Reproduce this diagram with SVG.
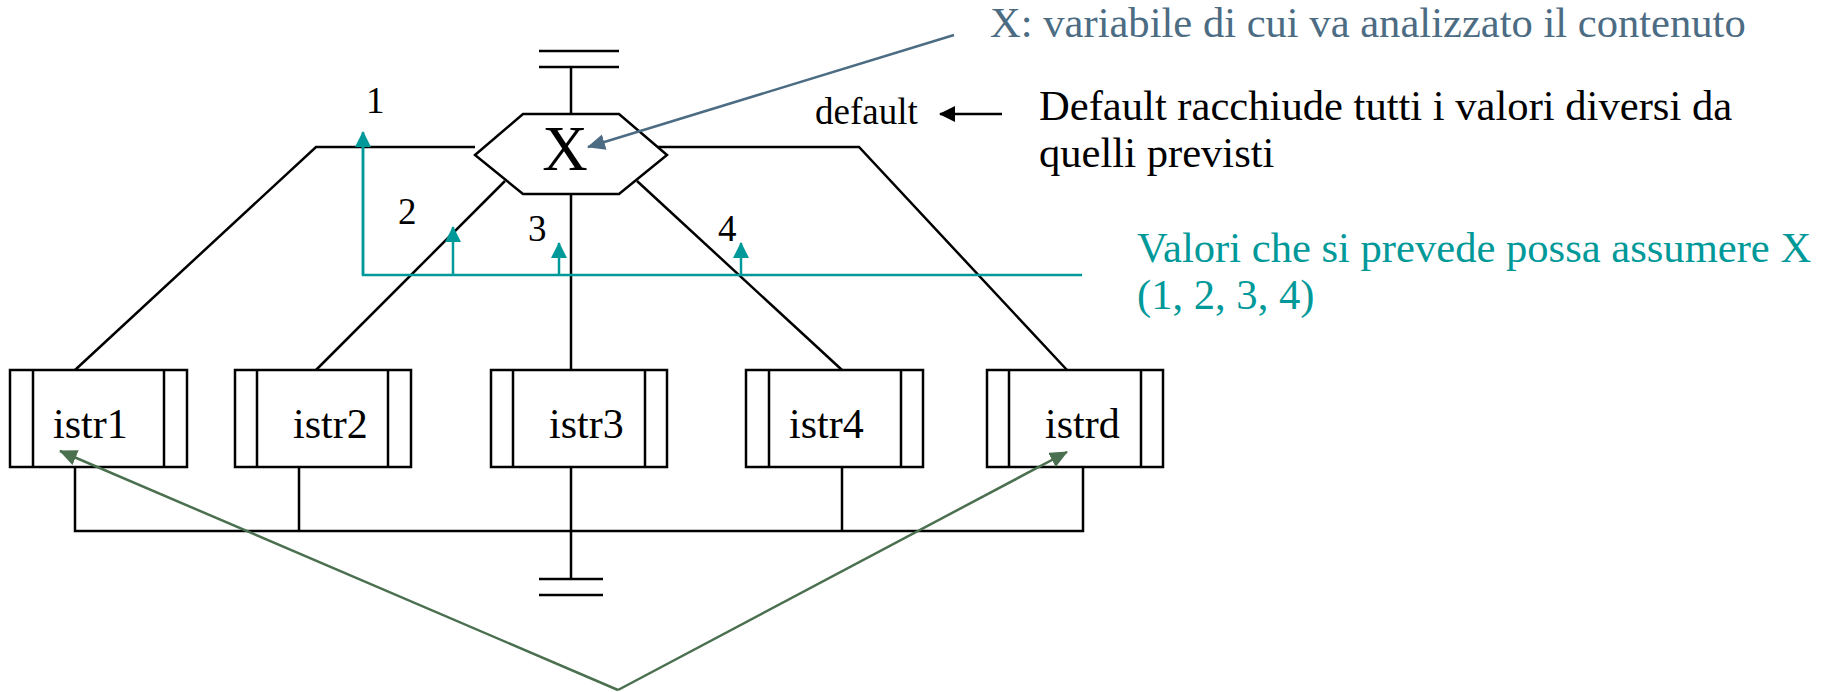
<svg xmlns="http://www.w3.org/2000/svg" width="1825" height="692" viewBox="0 0 1825 692">
  <style>
    .ln { fill: none; stroke: #000; stroke-width: 2.5; }
    .box { fill: #fff; stroke: #000; stroke-width: 2.5; }
    .teal { fill: none; stroke: #009999; stroke-width: 2.5; }
    .green { fill: none; stroke: #4a704f; stroke-width: 2.5; }
    .slate { fill: none; stroke: #4c6c83; stroke-width: 2.5; }
    text { font-family: "Liberation Serif", "Times New Roman", serif; }
    .lbl { font-size: 42px; fill: #000; }
    .small { font-size: 37px; fill: #000; }
    .note { font-size: 42.6px; }
  </style>
  <defs>
    <marker id="ahTeal" markerUnits="userSpaceOnUse" markerWidth="16" markerHeight="16" refX="15" refY="8" orient="auto">
      <path d="M0,0 L16,8 L0,16 z" fill="#009999"/>
    </marker>
    <marker id="ahGreen" markerUnits="userSpaceOnUse" markerWidth="18" markerHeight="16" refX="17" refY="8" orient="auto">
      <path d="M0,0 L18,8 L0,16 z" fill="#4a704f"/>
    </marker>
    <marker id="ahSlate" markerUnits="userSpaceOnUse" markerWidth="18" markerHeight="16" refX="17" refY="8" orient="auto">
      <path d="M0,0 L18,8 L0,16 z" fill="#4c6c83"/>
    </marker>
    <marker id="ahBlack" markerUnits="userSpaceOnUse" markerWidth="16" markerHeight="16" refX="15" refY="8" orient="auto">
      <path d="M0,0 L16,8 L0,16 z" fill="#000"/>
    </marker>
  </defs>

  <rect width="1825" height="692" fill="#fff"/>

  <!-- flow connectors -->
  <g id="connectors">
    <!-- start terminal and stub into the selector -->
    <path class="ln" d="M539,51 H619 M539,67 H619 M571,67 V114"/>
    <!-- outer branches (case 1 and default) -->
    <path class="ln" d="M475,147 H316 L75,370"/>
    <path class="ln" d="M652,147 H859 L1067,370"/>
    <!-- inner branches (cases 2, 3, 4) -->
    <path class="ln" d="M505,181 L316,370"/>
    <path class="ln" d="M571,194 V370"/>
    <path class="ln" d="M637,181 L842,370"/>
    <!-- join after the cases -->
    <path class="ln" d="M75,467 V531 H1083 V467 M299,467 V531 M571,467 V579 M842,467 V531"/>
    <!-- end terminal -->
    <path class="ln" d="M539,579 H603 M539,595 H603"/>
  </g>

  <!-- selector -->
  <g id="selector">
    <polygon class="box" points="475,155 523,114 619,114 667,155 619,194 523,194"/>
    <text x="565" y="170" text-anchor="middle" style="font-size:63px">X</text>
  </g>

  <!-- case blocks -->
  <g id="istr1">
    <rect class="box" x="10" y="370" width="177" height="97"/>
    <path class="ln" d="M33,370 V467 M164,370 V467"/>
    <text class="lbl" x="53" y="438">istr1</text>
  </g>
  <g id="istr2">
    <rect class="box" x="235" y="370" width="176" height="97"/>
    <path class="ln" d="M257,370 V467 M388,370 V467"/>
    <text class="lbl" x="293" y="438">istr2</text>
  </g>
  <g id="istr3">
    <rect class="box" x="491" y="370" width="176" height="97"/>
    <path class="ln" d="M513,370 V467 M645,370 V467"/>
    <text class="lbl" x="549" y="438">istr3</text>
  </g>
  <g id="istr4">
    <rect class="box" x="746" y="370" width="177" height="97"/>
    <path class="ln" d="M769,370 V467 M901,370 V467"/>
    <text class="lbl" x="789" y="438">istr4</text>
  </g>
  <g id="istrd">
    <rect class="box" x="987" y="370" width="176" height="97"/>
    <path class="ln" d="M1009,370 V467 M1141,370 V467"/>
    <text class="lbl" x="1045" y="438">istrd</text>
  </g>

  <!-- case values -->
  <g id="case-values">
    <text class="small" x="366" y="113">1</text>
    <text class="small" x="398" y="224">2</text>
    <text class="small" x="528" y="241">3</text>
    <text class="small" x="718" y="241">4</text>
    <text class="small" x="815" y="124">default</text>
  </g>

  <!-- annotations -->
  <g id="note-variable">
    <line class="slate" x1="954" y1="35" x2="588" y2="147" marker-end="url(#ahSlate)"/>
    <text class="note" x="990" y="37" fill="#4c6c83">X: variabile di cui va analizzato il contenuto</text>
  </g>

  <g id="note-default">
    <line x1="1002" y1="114" x2="940" y2="114" stroke="#000" stroke-width="2.5" marker-end="url(#ahBlack)"/>
    <text class="note" fill="#000">
      <tspan x="1039" y="120">Default racchiude tutti i valori diversi da</tspan>
      <tspan x="1039" y="167">quelli previsti</tspan>
    </text>
  </g>

  <g id="note-values">
    <path class="teal" d="M1082,275 H363 V133"/>
    <line class="teal" x1="363" y1="275" x2="363" y2="132" marker-end="url(#ahTeal)"/>
    <line class="teal" x1="453" y1="275" x2="453" y2="227" marker-end="url(#ahTeal)"/>
    <line class="teal" x1="559" y1="275" x2="559" y2="243" marker-end="url(#ahTeal)"/>
    <line class="teal" x1="741" y1="275" x2="741" y2="243" marker-end="url(#ahTeal)"/>
    <text class="note" fill="#009999">
      <tspan x="1137" y="262">Valori che si prevede possa assumere X</tspan>
      <tspan x="1137" y="309">(1, 2, 3, 4)</tspan>
    </text>
  </g>

  <g id="note-blocks">
    <line class="green" x1="618" y1="690" x2="60" y2="451" marker-end="url(#ahGreen)"/>
    <line class="green" x1="618" y1="690" x2="1067" y2="452" marker-end="url(#ahGreen)"/>
  </g>
</svg>
